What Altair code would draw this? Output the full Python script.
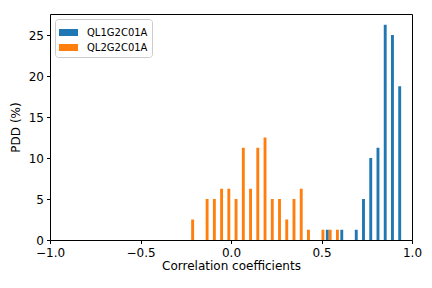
import altair as alt
import pandas as pd

BIN_WIDTH = 0.04
series_names = ["QL1G2C01A", "QL2G2C01A"]
colors = ["#1f77b4", "#ff7f0e"]

# bin lower edges and percentage values
blue_bins = [0.52, 0.60, 0.68, 0.72, 0.76, 0.80, 0.84, 0.88, 0.92]
blue_vals = [1.25, 1.25, 1.25, 5.0, 10.0, 11.25, 26.25, 25.0, 18.75]

orange_bins = [-0.24, -0.16, -0.12, -0.08, -0.04, 0.00, 0.04, 0.08, 0.12, 0.16,
               0.20, 0.24, 0.28, 0.32, 0.36, 0.40, 0.48, 0.52, 0.56]
orange_vals = [2.5, 5.0, 5.0, 6.25, 6.25, 5.0, 11.25, 6.25, 11.25, 12.5,
               5.0, 5.0, 2.5, 5.0, 6.25, 1.25, 1.25, 1.25, 1.25]

x_ticks = [-1.0, -0.5, 0.0, 0.5, 1.0]
y_ticks = [0, 5, 10, 15, 20, 25]

rows = []
for name, bins, vals, off in [(series_names[0], blue_bins, blue_vals, 0.1),
                              (series_names[1], orange_bins, orange_vals, 0.5)]:
    for b, v in zip(bins, vals):
        x0 = b + off * BIN_WIDTH
        rows.append({"series": name, "x": x0, "x2": x0 + 0.4 * BIN_WIDTH, "pdd": v})
df = pd.DataFrame(rows)

ymax = max(blue_vals + orange_vals) * 1.05
font = "DejaVu Sans"

chart = alt.Chart(df).mark_bar(strokeWidth=0).encode(
    x=alt.X("x:Q", scale=alt.Scale(domain=[-1, 1], nice=False, zero=False, padding=0),
            axis=alt.Axis(values=x_ticks, format=".1f", title="Correlation coefficients")),
    x2="x2:Q",
    y=alt.Y("pdd:Q", scale=alt.Scale(domain=[0, ymax], nice=False, padding=0),
            axis=alt.Axis(values=y_ticks, format="d", title="PDD (%)")),
    y2=alt.datum(0),
    color=alt.Color("series:N",
                    scale=alt.Scale(domain=series_names, range=colors),
                    legend=alt.Legend(
                        title=None, orient="top-left", offset=5,
                        symbolType="M-1,-0.37L1,-0.37L1,0.37L-1,0.37Z",
                        symbolSize=361, symbolStrokeWidth=0,
                        labelFontSize=10, labelFont=font, labelColor="black",
                        labelOffset=9, padding=4, rowPadding=-3,
                        strokeColor="#cccccc", fillColor="white", cornerRadius=3)),
).properties(
    width=362, height=226,
    autosize=alt.AutoSizeParams(type="none"),
    padding={"left": 42, "top": 6, "right": 10, "bottom": 38},
).configure_view(
    stroke="black", strokeWidth=1
).configure_axis(
    grid=False, domain=False, tickColor="black", tickSize=3.5, tickWidth=1,
    labelFont=font, labelFontSize=12, labelColor="black", labelPadding=3,
    labelFlush=False, labelOverlap=False,
    titleFont=font, titleFontSize=12, titleColor="black", titleFontWeight="normal",
).configure_axisX(labelPadding=4, titlePadding=2).configure_axisY(titlePadding=6)

chart.save("out.html", embed_options={"renderer": "svg", "actions": False})
